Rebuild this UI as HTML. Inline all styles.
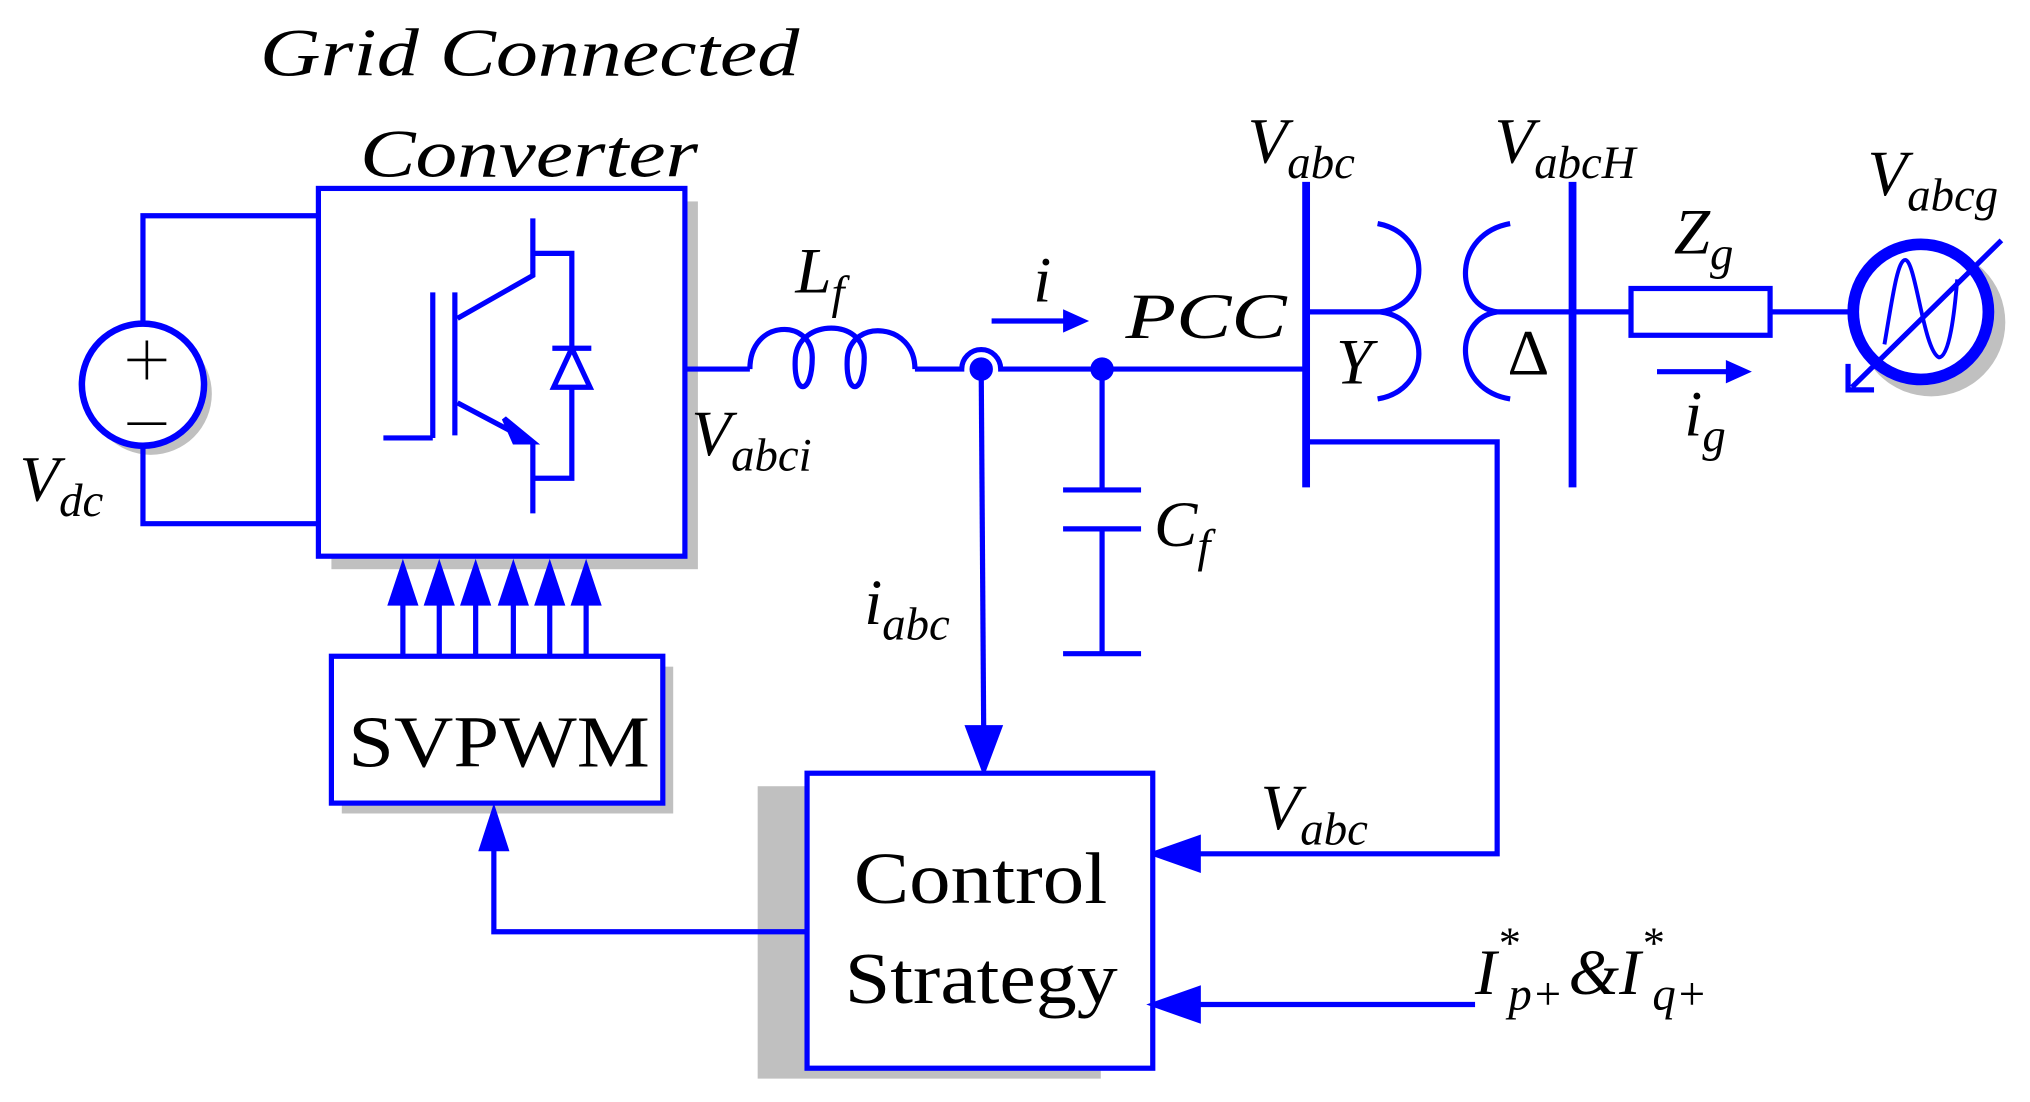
<!DOCTYPE html>
<html><head><meta charset="utf-8"><style>
html,body{margin:0;padding:0;background:#fff}
svg{display:block}
text{font-family:"Liberation Serif",serif;fill:#000}
.i{font-style:italic}
</style></head><body>
<svg width="2030" height="1102" viewBox="0 0 1562 848" preserveAspectRatio="none" xmlns="http://www.w3.org/2000/svg">
<g fill="none" stroke="#0000ff" stroke-width="4">
<rect x="255" y="155" width="282" height="283" fill="#c0c0c0" stroke="none"/>
<rect x="263" y="513" width="255" height="113" fill="#c0c0c0" stroke="none"/>
<rect x="583" y="605" width="264" height="225" fill="#c0c0c0" stroke="none"/>
<circle cx="116" cy="303" r="47" fill="#c0c0c0" stroke="none"/>
<circle cx="1486" cy="248" r="57" fill="#c0c0c0" stroke="none"/>
<rect x="245" y="145" width="282" height="283" fill="#fff"/>
<circle cx="110" cy="296" r="47" fill="#fff" stroke-width="5"/>
<path d="M110 249V166H245M110 343V403H245"/>
<path d="M98 277H128M113 262V292M98 326H128" stroke="#000" stroke-width="2"/>
<path d="M333 225V337M295 337H333M350 225V335M352 245L410 212V168M352 310L405 338M410 340V395"/>
<path d="M410 340L388 322L396 340Z" fill="#0000ff"/>
<path d="M410 195H440V368H410"/>
<path d="M425 268H455M440 268L426 298H454Z" fill="#fff"/>
<path d="M527 284H577"/>
<path d="M577 284C577 245 625 245 625 275C625 305 610 305 612 275C615 245 665 245 665 275C665 305 650 305 652 275C655 245 704 248 704 284"/>
<path d="M704 284H740A15 15 0 0 1 770 284H1005"/>
<circle cx="755" cy="284" r="7" fill="#0000ff"/>
<circle cx="848" cy="284" r="7" fill="#0000ff"/>
<path d="M848 284V377M818 377H878M818 407H878M848 407V503M818 503H878"/>
<path d="M755 284L757 575"/>
<path d="M745 560L757 592L769 560Z" fill="#0000ff"/>
<path d="M763 247H825"/><path d="M818 238L838 247L818 256Z" fill="#0000ff" stroke="none"/>
<path d="M1005 140V375M1210 140V375" stroke-width="6"/>
<path d="M1005 240H1062M1150 240H1255"/>
<path d="M1060 172C1102 180 1102 235 1062 240C1102 245 1102 300 1060 307"/>
<path d="M1162 172C1118 180 1118 235 1152 240C1118 245 1118 300 1162 307"/>
<path d="M1005 340H1152V657H910"/>
<path d="M922 645L888 657L922 669Z" fill="#0000ff"/>
<rect x="1255" y="222" width="107" height="36"/>
<path d="M1362 240H1422"/>
<path d="M1275 286H1335"/><path d="M1328 277L1348 286L1328 295Z" fill="#0000ff" stroke="none"/>
<circle cx="1478" cy="240" r="52" fill="#fff" stroke-width="9"/>
<path d="M1450 265C1456 230 1460 200 1466 200C1474 200 1480 270 1492 275C1500 275 1504 240 1506 215" stroke-width="3"/>
<path d="M1540 185L1425 298M1422 280V300H1442" stroke-width="4"/>
<rect x="255" y="505" width="255" height="113" fill="#fff"/>
<path d="M310 505V460M338 505V460M366 505V460M395 505V460M423 505V460M451 505V460"/>
<g fill="#0000ff" stroke="none">
<path d="M298 466L310 430L322 466Z"/><path d="M326 466L338 430L350 466Z"/><path d="M354 466L366 430L378 466Z"/><path d="M383 466L395 430L407 466Z"/><path d="M411 466L423 430L435 466Z"/><path d="M439 466L451 430L463 466Z"/>
<path d="M368 655L380 618L392 655Z"/>
</g>
<path d="M621 717H380V650"/>
<rect x="621" y="595" width="266" height="227" fill="#fff"/>
<path d="M1135 773H915"/>
<path d="M922 761L888 773L922 785Z" fill="#0000ff"/>
</g>
<text class="i" x="200" y="58" font-size="52" textLength="415" lengthAdjust="spacingAndGlyphs">Grid Connected</text>
<text class="i" x="277" y="136" font-size="52" textLength="260" lengthAdjust="spacingAndGlyphs">Converter</text>
<text class="i" x="15" y="385" font-size="50">V<tspan font-size="36" dy="12">dc</tspan></text>
<text class="i" x="532" y="350" font-size="50">V<tspan font-size="36" dy="12">abci</tspan></text>
<text class="i" x="612" y="225" font-size="50">L<tspan font-size="36" dy="12">f</tspan></text>
<text class="i" x="795" y="232" font-size="50">i</text>
<text class="i" x="866" y="260" font-size="50" textLength="124" lengthAdjust="spacingAndGlyphs">PCC</text>
<text class="i" x="888" y="420" font-size="50">C<tspan font-size="36" dy="12">f</tspan></text>
<text class="i" x="665" y="480" font-size="50">i<tspan font-size="36" dy="12">abc</tspan></text>
<text class="i" x="960" y="125" font-size="50">V<tspan font-size="36" dy="12">abc</tspan></text>
<text class="i" x="1150" y="125" font-size="50">V<tspan font-size="36" dy="12">abcH</tspan></text>
<text class="i" x="1437" y="150" font-size="50">V<tspan font-size="36" dy="12">abcg</tspan></text>
<text class="i" x="1028" y="295" font-size="50">Y</text>
<text x="1160" y="288" font-size="50">Δ</text>
<text class="i" x="1288" y="195" font-size="50">Z<tspan font-size="36" dy="12">g</tspan></text>
<text class="i" x="1296" y="335" font-size="50">i<tspan font-size="36" dy="12">g</tspan></text>
<text class="i" x="970" y="638" font-size="50">V<tspan font-size="36" dy="12">abc</tspan></text>
<text x="268" y="590" font-size="56" textLength="232" lengthAdjust="spacingAndGlyphs">SVPWM</text>
<text x="657" y="695" font-size="56" textLength="195" lengthAdjust="spacingAndGlyphs">Control</text>
<text x="650" y="772" font-size="56" textLength="210" lengthAdjust="spacingAndGlyphs">Strategy</text>
<text class="i" x="1135" y="765" font-size="50">I<tspan font-size="34" dy="-28">*</tspan><tspan font-size="36" dy="40" dx="-8">p+</tspan><tspan font-size="50" dy="-12" dx="4">&amp;I</tspan><tspan font-size="34" dy="-28">*</tspan><tspan font-size="36" dy="40" dx="-8">q+</tspan></text>
</svg>
</body></html>
